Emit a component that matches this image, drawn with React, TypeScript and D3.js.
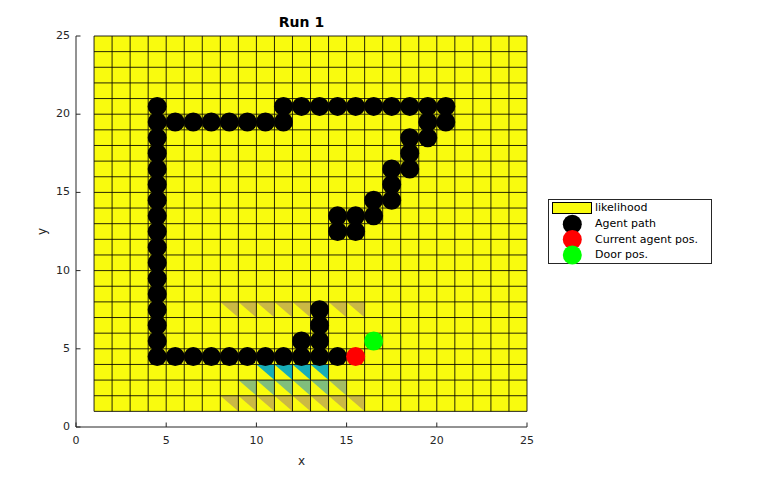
import * as d3 from 'd3';
import React from 'react';

// agent path (cell centers)
const pathX = [
  4.5, 4.5, 4.5, 4.5, 4.5, 4.5, 4.5, 4.5, 4.5, 4.5, 4.5, 4.5, 4.5, 4.5, 4.5, 4.5, 4.5,
  5.5, 6.5, 7.5, 8.5, 9.5, 10.5, 11.5, 11.5,
  12.5, 13.5, 14.5, 15.5, 16.5, 17.5, 18.5, 19.5, 20.5, 20.5, 19.5, 19.5,
  18.5, 18.5, 18.5, 17.5, 17.5, 17.5, 16.5, 16.5, 15.5, 15.5, 14.5, 14.5,
  5.5, 6.5, 7.5, 8.5, 9.5, 10.5, 11.5, 12.5, 13.5, 14.5, 12.5, 13.5, 13.5, 13.5,
];
const pathY = [
  4.5, 5.5, 6.5, 7.5, 8.5, 9.5, 10.5, 11.5, 12.5, 13.5, 14.5, 15.5, 16.5, 17.5, 18.5, 19.5, 20.5,
  19.5, 19.5, 19.5, 19.5, 19.5, 19.5, 19.5, 20.5,
  20.5, 20.5, 20.5, 20.5, 20.5, 20.5, 20.5, 20.5, 20.5, 19.5, 19.5, 18.5,
  18.5, 17.5, 16.5, 16.5, 15.5, 14.5, 14.5, 13.5, 13.5, 12.5, 12.5, 13.5,
  4.5, 4.5, 4.5, 4.5, 4.5, 4.5, 4.5, 4.5, 4.5, 4.5, 5.5, 5.5, 6.5, 7.5,
];
const agentPos = [15.5, 4.5];
const doorPos = [16.5, 5.5];

// cells (lower-left corner) whose upper triangle has a lower likelihood
const shadeX = [8, 9, 10, 11, 12, 13, 14, 15, 9, 10, 11, 12, 13, 14, 10, 11, 12, 13, 8, 9, 10, 11, 12, 13, 14, 15];
const shadeY = [1, 1, 1, 1, 1, 1, 1, 1, 2, 2, 2, 2, 2, 2, 3, 3, 3, 3, 7, 7, 7, 7, 7, 7, 7, 7];
const shadeV = [0.74, 0.74, 0.74, 0.74, 0.74, 0.74, 0.74, 0.74, 0.62, 0.6, 0.6, 0.6, 0.6, 0.66, 0.42, 0.42, 0.42, 0.42, 0.74, 0.74, 0.74, 0.74, 0.74, 0.74, 0.74, 0.74];

const ticks = [0, 5, 10, 15, 20, 25];
const legendLabels = ['likelihood', 'Agent path', 'Current agent pos.', 'Door pos.'];

const parula = d3
  .scaleLinear<string>()
  .domain([0, 0.125, 0.25, 0.375, 0.5, 0.625, 0.75, 0.875, 1])
  .range(['#352a87', '#0363e1', '#1485d4', '#06a7c6', '#38b99e', '#92bf73', '#d0b840', '#fcce2e', '#f9fb0e']);

const font = 'DejaVu Sans, sans-serif';
const ink = '#262626';

export default function App() {
  const x = d3.scaleLinear([0, 25], [76, 527]);
  const y = d3.scaleLinear([0, 25], [427, 36]);
  const cells = d3.range(1, 25);
  const lines = d3.range(1, 26);
  const r = 9.5;

  return (
    <svg width={767} height={480} style={{ position: 'absolute', left: 0, top: 0, background: '#fff' }}>
      {/* likelihood cells */}
      <rect x={x(1)} y={y(25)} width={x(25) - x(1)} height={y(1) - y(25)} fill={parula(1)} />
      {shadeX.map((cx, i) => {
        const cy = shadeY[i];
        const pts = [
          [x(cx), y(cy + 1)],
          [x(cx + 1), y(cy + 1)],
          [x(cx + 1), y(cy)],
        ];
        return <polygon key={'s' + i} points={pts.map((p) => p.join(',')).join(' ')} fill={parula(shadeV[i])} />;
      })}
      {lines.map((v) => (
        <g key={'g' + v}>
          <line x1={x(v)} x2={x(v)} y1={y(1)} y2={y(25)} stroke="#000" strokeOpacity={0.85} strokeWidth={1} />
          <line x1={x(1)} x2={x(25)} y1={y(v)} y2={y(v)} stroke="#000" strokeOpacity={0.85} strokeWidth={1} />
        </g>
      ))}
      {cells.length === 0 ? null : null}

      {/* path + positions */}
      {pathX.map((px, i) => (
        <circle key={'p' + i} cx={x(px)} cy={y(pathY[i])} r={r} fill="#000" />
      ))}
      <circle cx={x(agentPos[0])} cy={y(agentPos[1])} r={r} fill="#ff0000" />
      <circle cx={x(doorPos[0])} cy={y(doorPos[1])} r={r} fill="#00ff00" />

      {/* axes */}
      <line x1={x(0)} x2={x(25)} y1={y(0)} y2={y(0)} stroke={ink} strokeWidth={1} />
      <line x1={x(0)} x2={x(0)} y1={y(0)} y2={y(25)} stroke={ink} strokeWidth={1} />
      {ticks.map((t) => (
        <g key={'t' + t} fontFamily={font} fontSize={11} fill={ink}>
          <line x1={x(t)} x2={x(t)} y1={y(0)} y2={y(0) - 4.5} stroke={ink} />
          <line x1={x(0)} x2={x(0) + 4.5} y1={y(t)} y2={y(t)} stroke={ink} />
          <text x={x(t)} y={y(0) + 14} textAnchor="middle" dominantBaseline="middle">{t}</text>
          <text x={x(0) - 6} y={y(t)} textAnchor="end" dominantBaseline="middle">{t}</text>
        </g>
      ))}
      <text x={(x(0) + x(25)) / 2} y={461} textAnchor="middle" dominantBaseline="middle" fontFamily={font} fontSize={12} fill={ink}>x</text>
      <text transform={`translate(42,${(y(0) + y(25)) / 2}) rotate(-90)`} textAnchor="middle" dominantBaseline="middle" fontFamily={font} fontSize={12} fill={ink}>y</text>
      <text x={(x(0) + x(25)) / 2} y={23} textAnchor="middle" dominantBaseline="middle" fontFamily={font} fontSize={14} fontWeight="bold" fill="#000">Run 1</text>

      {/* legend */}
      <g fontFamily={font} fontSize={11} fill="#000">
        <rect x={548.5} y={199.5} width={163} height={64} fill="#fff" stroke={ink} strokeWidth={1} />
        <rect x={552.5} y={202.5} width={39} height={11} fill={parula(1)} stroke="#000" strokeWidth={1} />
        <circle cx={572.3} cy={224.3} r={r} fill="#000" />
        <circle cx={572.3} cy={239.5} r={r} fill="#ff0000" />
        <circle cx={572.3} cy={255} r={r} fill="#00ff00" />
        {legendLabels.map((l, i) => (
          <text key={l} x={595} y={[208, 224.3, 239.5, 255][i]} dominantBaseline="middle">{l}</text>
        ))}
      </g>
    </svg>
  );
}
